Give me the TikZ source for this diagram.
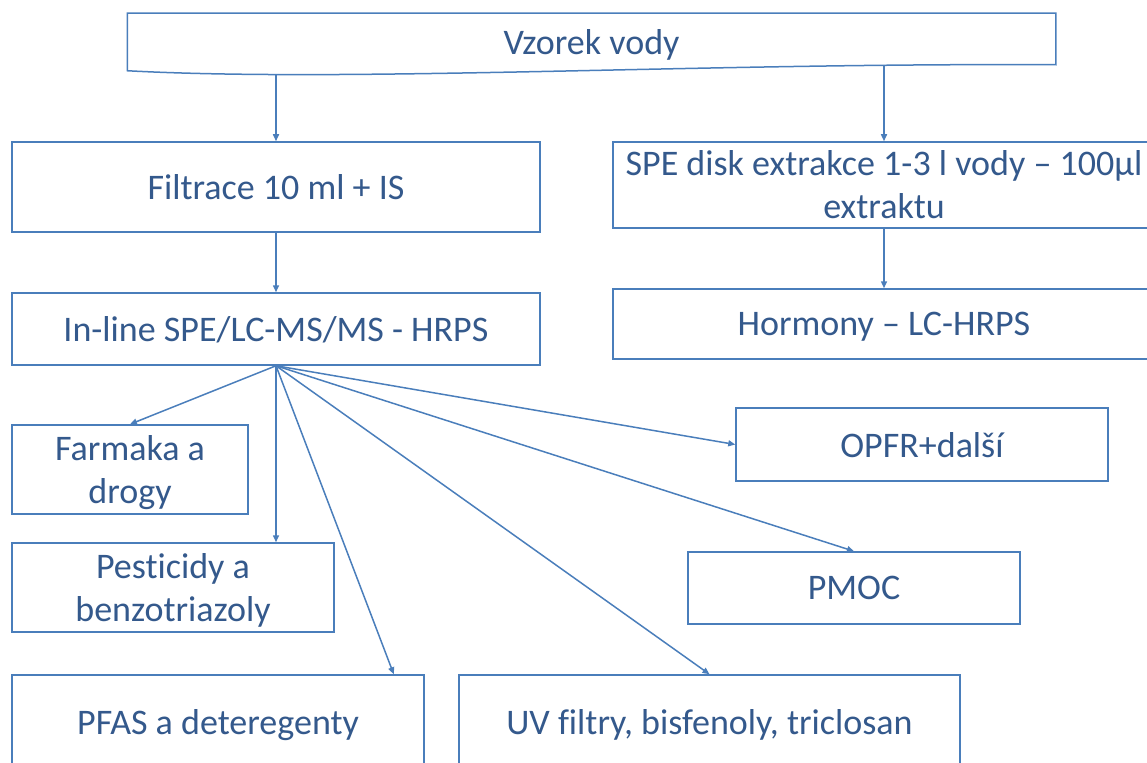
\documentclass[tikz,border=0pt]{standalone}
\usepackage{fontspec}
\setmainfont[Ligatures=NoCommon]{Carlito}
\usetikzlibrary{arrows.meta,calc}
\pgfdeclarelayer{background}
\pgfsetlayers{background,main}
\definecolor{edge}{RGB}{74,126,187}
\definecolor{ink}{RGB}{52,89,140}
\begin{document}
\begin{tikzpicture}[x=1pt,y=-1pt,
  box/.style={draw=edge,line width=1.5pt,fill=white,text=ink,
    font=\fontsize{36}{43}\selectfont,align=center,inner sep=0pt,text depth=0pt},
  arr/.style={draw=edge,line width=1.5pt,-{Triangle[length=7pt,width=6pt]}}]
\useasboundingbox (0,0) rectangle (1147,762);
\clip (0,0) rectangle (1147,762);

% sample box (document shape, text only here; outline on the background layer)
\node[box,draw=none,fill=none,minimum width=927pt,minimum height=56pt] (top) at (591.5,42) {Vzorek vody};

% first processing level
\node[box,minimum width=528pt,minimum height=90pt] (fil) at (276,187) {Filtrace 10 ml + IS};
\node[box,minimum width=542pt,minimum height=86pt] (spe) at (884,185)
  {SPE disk extrakce 1-3 l vody -- 100µl\\extraktu};

% second processing level
\node[box,minimum width=528pt,minimum height=72pt] (inl) at (276,329) {In-line SPE/LC-MS/MS - HRPS};
\node[box,minimum width=542pt,minimum height=70pt] (hor) at (884,324) {Hormony -- LC-HRPS};

% compound groups
\node[box,minimum width=236pt,minimum height=89pt] (farm) at (130,469.5) {Farmaka a\\drogy};
\node[box,minimum width=322pt,minimum height=89pt] (pest) at (173,587.5) {Pesticidy a\\benzotriazoly};
\node[box,minimum width=412pt,minimum height=94pt] (pfas) at (218,722) {PFAS a deteregenty};
\node[box,minimum width=501pt,minimum height=94pt] (uv) at (709.5,722) {UV filtry, bisfenoly, triclosan};
\node[box,minimum width=332pt,minimum height=72pt] (pmoc) at (854,588) {PMOC};
\node[box,minimum width=372pt,minimum height=73pt] (opfr) at (922,444.5) {OPFR+další};

\begin{pgfonlayer}{background}
  % connectors from the sample box
  \draw[arr] (top.center -| fil.north) -- (fil.north);
  \draw[arr] (top.center -| spe.north) -- (spe.north);
  % document outline with wavy bottom edge
  \draw[draw=edge,line width=1.5pt,fill=white]
    (top.north west) -- (top.north east) -- ($(top.south east)+(0,-6)$)
    .. controls ($(top.south)+(108.5,-8)$) and ($(top.south)+(-241.5,12)$) .. (top.south west)
    -- cycle;
\end{pgfonlayer}

\draw[arr] (fil.south) -- (inl.north);
\draw[arr] (spe.south) -- (hor.north);

% fan of connectors to the compound groups
\draw[arr] (inl.south) -- (farm.north);
\draw[arr] (inl.south) -- (inl.south |- pest.north);
\draw[arr] (inl.south) -- ($(pfas.north east)+(-31,0)$);
\draw[arr] (inl.south) -- (uv.north);
\draw[arr] (inl.south) -- (pmoc.north);
\draw[arr] (inl.south) -- (opfr.west);
\end{tikzpicture}
\end{document}
